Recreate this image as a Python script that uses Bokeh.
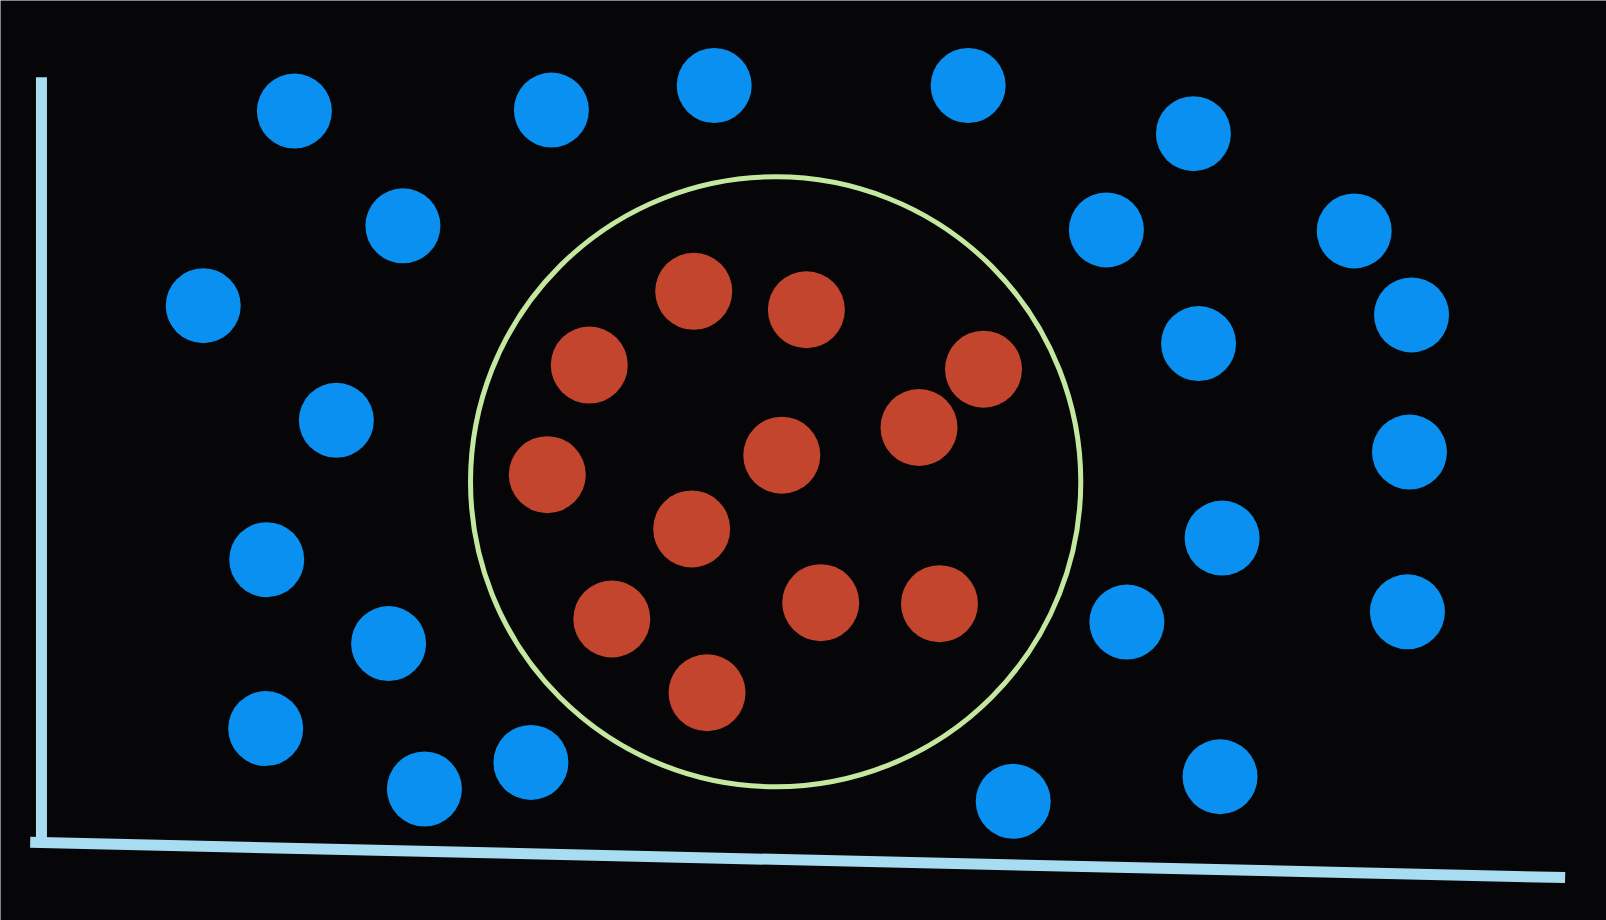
from bokeh.plotting import figure
from bokeh.models import Range1d
from bokeh.embed import file_html
from bokeh.resources import INLINE

# blue points (outside the circle)
blue_x = [28.7, 53.8, 69.7, 94.5, 116.5, 39.3, 108.0, 132.2, 19.8, 137.8, 117.0, 32.8,
          137.6, 26.0, 119.3, 37.9, 110.0, 137.4, 25.9, 41.4, 51.8, 98.9, 119.1]
blue_y = [79.0, 79.1, 81.5, 81.5, 76.8, 67.8, 67.4, 67.3, 60.0, 59.1, 56.3, 48.8,
          45.7, 35.2, 37.3, 27.0, 29.1, 30.1, 18.7, 12.8, 15.4, 11.6, 14.0]

# red points (inside the circle)
red_x = [67.7, 78.7, 57.5, 96.0, 89.7, 76.3, 53.4, 67.5, 59.7, 80.1, 91.7, 69.0]
red_y = [61.4, 59.6, 54.2, 53.8, 48.1, 45.4, 43.5, 38.2, 29.4, 31.0, 30.9, 22.2]

# decision boundary
circle_x = [75.7]
circle_y = [42.8]
circle_r = [29.8]

# axis lines
yaxis_x = [4.0, 4.0]
yaxis_y = [82.3, 7.6]
xaxis_x = [2.9, 152.8]
xaxis_y = [7.6, 4.15]

p = figure(width=1606, height=920, output_backend="svg", toolbar_location=None,
           x_range=Range1d(0, 156.84), y_range=Range1d(-0.04, 89.8),
           min_border=0)
p.axis.visible = False
p.grid.visible = False
p.outline_line_color = None
p.background_fill_color = "#060609"
p.border_fill_color = "#060609"

p.line(yaxis_x, yaxis_y, line_color="#a8dcf0", line_width=11)
p.line(xaxis_x, xaxis_y, line_color="#a8dcf0", line_width=11)

p.circle(circle_x, circle_y, radius=circle_r, fill_alpha=0,
         line_color="#c5e8a0", line_width=5)

p.scatter(blue_x, blue_y, size=75, fill_color="#0a90f0", line_color=None)
p.scatter(red_x, red_y, size=77, fill_color="#c4452d", line_color=None)

open("out.html", "w").write(file_html(p, INLINE))
